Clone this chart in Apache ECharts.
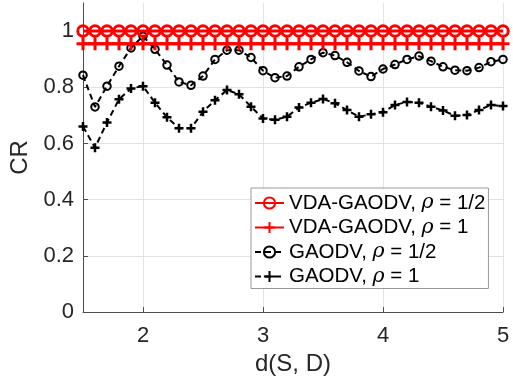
<!DOCTYPE html>
<html>
<head>
<meta charset="utf-8">
<script src="https://cdn.jsdelivr.net/npm/echarts@6/dist/echarts.min.js"></script>
<style>
  html, body { margin: 0; padding: 0; background: #fff; }
  #chart { width: 513px; height: 388px; }
</style>
</head>
<body>
<div id="chart"></div>
<script>
const distances = [1.5, 1.6, 1.7, 1.8, 1.9, 2.0, 2.1, 2.2, 2.3, 2.4, 2.5, 2.6, 2.7, 2.8, 2.9, 3.0, 3.1, 3.2,
  3.3, 3.4, 3.5, 3.6, 3.7, 3.8, 3.9, 4.0, 4.1, 4.2, 4.3, 4.4, 4.5, 4.6, 4.7, 4.8, 4.9, 5.0];

const vdaHalf = [1, 1, 1, 1, 1, 1, 1, 1, 1, 1, 1, 1, 1, 1, 1, 1, 1, 1,
  1, 1, 1, 1, 1, 1, 1, 1, 1, 1, 1, 1, 1, 1, 1, 1, 1, 1];
const vdaOne = [0.955, 0.955, 0.955, 0.955, 0.955, 0.955, 0.955, 0.955, 0.955, 0.955, 0.955, 0.955,
  0.955, 0.955, 0.955, 0.955, 0.955, 0.955, 0.955, 0.955, 0.955, 0.955, 0.955, 0.955,
  0.955, 0.955, 0.955, 0.955, 0.955, 0.955, 0.955, 0.955, 0.955, 0.955, 0.955, 0.955];
const gaodvHalf = [0.843, 0.73, 0.804, 0.875, 0.94, 0.982, 0.935, 0.879, 0.819, 0.807, 0.84, 0.899,
  0.932, 0.932, 0.906, 0.859, 0.834, 0.84, 0.873, 0.899, 0.923, 0.913, 0.889, 0.858,
  0.838, 0.865, 0.881, 0.899, 0.911, 0.893, 0.873, 0.861, 0.859, 0.87, 0.891, 0.899];
const gaodvOne = [0.66, 0.585, 0.675, 0.757, 0.796, 0.804, 0.745, 0.693, 0.654, 0.654, 0.713, 0.754,
  0.79, 0.775, 0.731, 0.689, 0.684, 0.695, 0.728, 0.745, 0.758, 0.743, 0.719, 0.695,
  0.704, 0.711, 0.737, 0.748, 0.745, 0.731, 0.717, 0.699, 0.701, 0.719, 0.737, 0.733];

const xTicks = [2, 3, 4, 5];
const yTicks = [0, 0.2, 0.4, 0.6, 0.8, 1];

const seriesNames = ["VDA-GAODV, ρ = 1/2", "VDA-GAODV, ρ = 1", "GAODV, ρ = 1/2", "GAODV, ρ = 1"];

const FONT = "Liberation Sans";
const AXIS_COLOR = "#4d4d4d";
const TEXT_COLOR = "#262626";
const PLUS = "path://M0,5H10M5,0V10";

const pairs = (ys) => distances.map((x, i) => [x, ys[i]]);

const chart = echarts.init(document.getElementById("chart"));

chart.setOption({
  animation: false,
  textStyle: { fontFamily: FONT },
  grid: { left: 83, right: 10, top: 3, bottom: 76 },
  xAxis: {
    type: "value",
    min: 1.5,
    max: 5,
    name: "d(S, D)",
    nameLocation: "middle",
    nameGap: 33,
    nameTextStyle: { fontSize: 24, color: TEXT_COLOR },
    axisLine: { lineStyle: { color: AXIS_COLOR, width: 1 } },
    axisTick: { inside: true, length: 5, customValues: xTicks, lineStyle: { color: AXIS_COLOR } },
    axisLabel: { customValues: xTicks, fontSize: 22, color: TEXT_COLOR, margin: 13 },
    splitLine: { show: true, lineStyle: { color: "#e3e3e3" } }
  },
  yAxis: {
    type: "value",
    min: 0,
    max: 1.1,
    name: "CR",
    nameLocation: "middle",
    nameGap: 46,
    nameTextStyle: { fontSize: 24, color: TEXT_COLOR },
    axisLine: { show: true, lineStyle: { color: AXIS_COLOR, width: 1 } },
    axisTick: { show: true, inside: true, length: 5, customValues: yTicks, lineStyle: { color: AXIS_COLOR } },
    axisLabel: { customValues: yTicks, fontSize: 22, color: TEXT_COLOR, margin: 9 },
    splitLine: { show: true, lineStyle: { color: "#e3e3e3" } }
  },
  legend: {
    orient: "vertical",
    left: 251,
    top: 188,
    padding: [4, 3, 1, 3],
    itemGap: 2.5,
    itemWidth: 29,
    itemHeight: 14,
    backgroundColor: "#fff",
    borderColor: "#999",
    borderWidth: 1,
    borderRadius: 0,
    textStyle: {
      fontSize: 20.5,
      lineHeight: 22,
      color: "#000",
      rich: {
        r: { fontSize: 20.5, lineHeight: 22, fontStyle: "italic", fontFamily: "DejaVu Serif", color: "#000" }
      }
    },
    formatter: (name) => name.replace("ρ", "{r|ρ}"),
    data: seriesNames
  },
  series: [
    {
      name: seriesNames[0],
      type: "line",
      data: pairs(vdaHalf),
      symbol: "circle",
      symbolSize: 10.5,
      z: 4,
      lineStyle: { color: "#ff0000", width: 3 },
      itemStyle: { color: "rgba(0,0,0,0)", borderColor: "#ff0000", borderWidth: 3 }
    },
    {
      name: seriesNames[1],
      type: "line",
      data: pairs(vdaOne),
      symbol: PLUS,
      symbolSize: 13,
      z: 3,
      lineStyle: { color: "#ff0000", width: 3 },
      itemStyle: { color: "rgba(0,0,0,0)", borderColor: "#ff0000", borderWidth: 3 }
    },
    {
      name: seriesNames[2],
      type: "line",
      data: pairs(gaodvHalf),
      symbol: "circle",
      symbolSize: 7.5,
      z: 2,
      lineStyle: { color: "#000", width: 2, type: [6, 4] },
      itemStyle: { color: "rgba(0,0,0,0)", borderColor: "#000", borderWidth: 2 }
    },
    {
      name: seriesNames[3],
      type: "line",
      data: pairs(gaodvOne),
      symbol: PLUS,
      symbolSize: 9,
      z: 2,
      lineStyle: { color: "#000", width: 2, type: [6, 4] },
      itemStyle: { color: "rgba(0,0,0,0)", borderColor: "#000", borderWidth: 2.5 }
    }
  ]
});
</script>
</body>
</html>
